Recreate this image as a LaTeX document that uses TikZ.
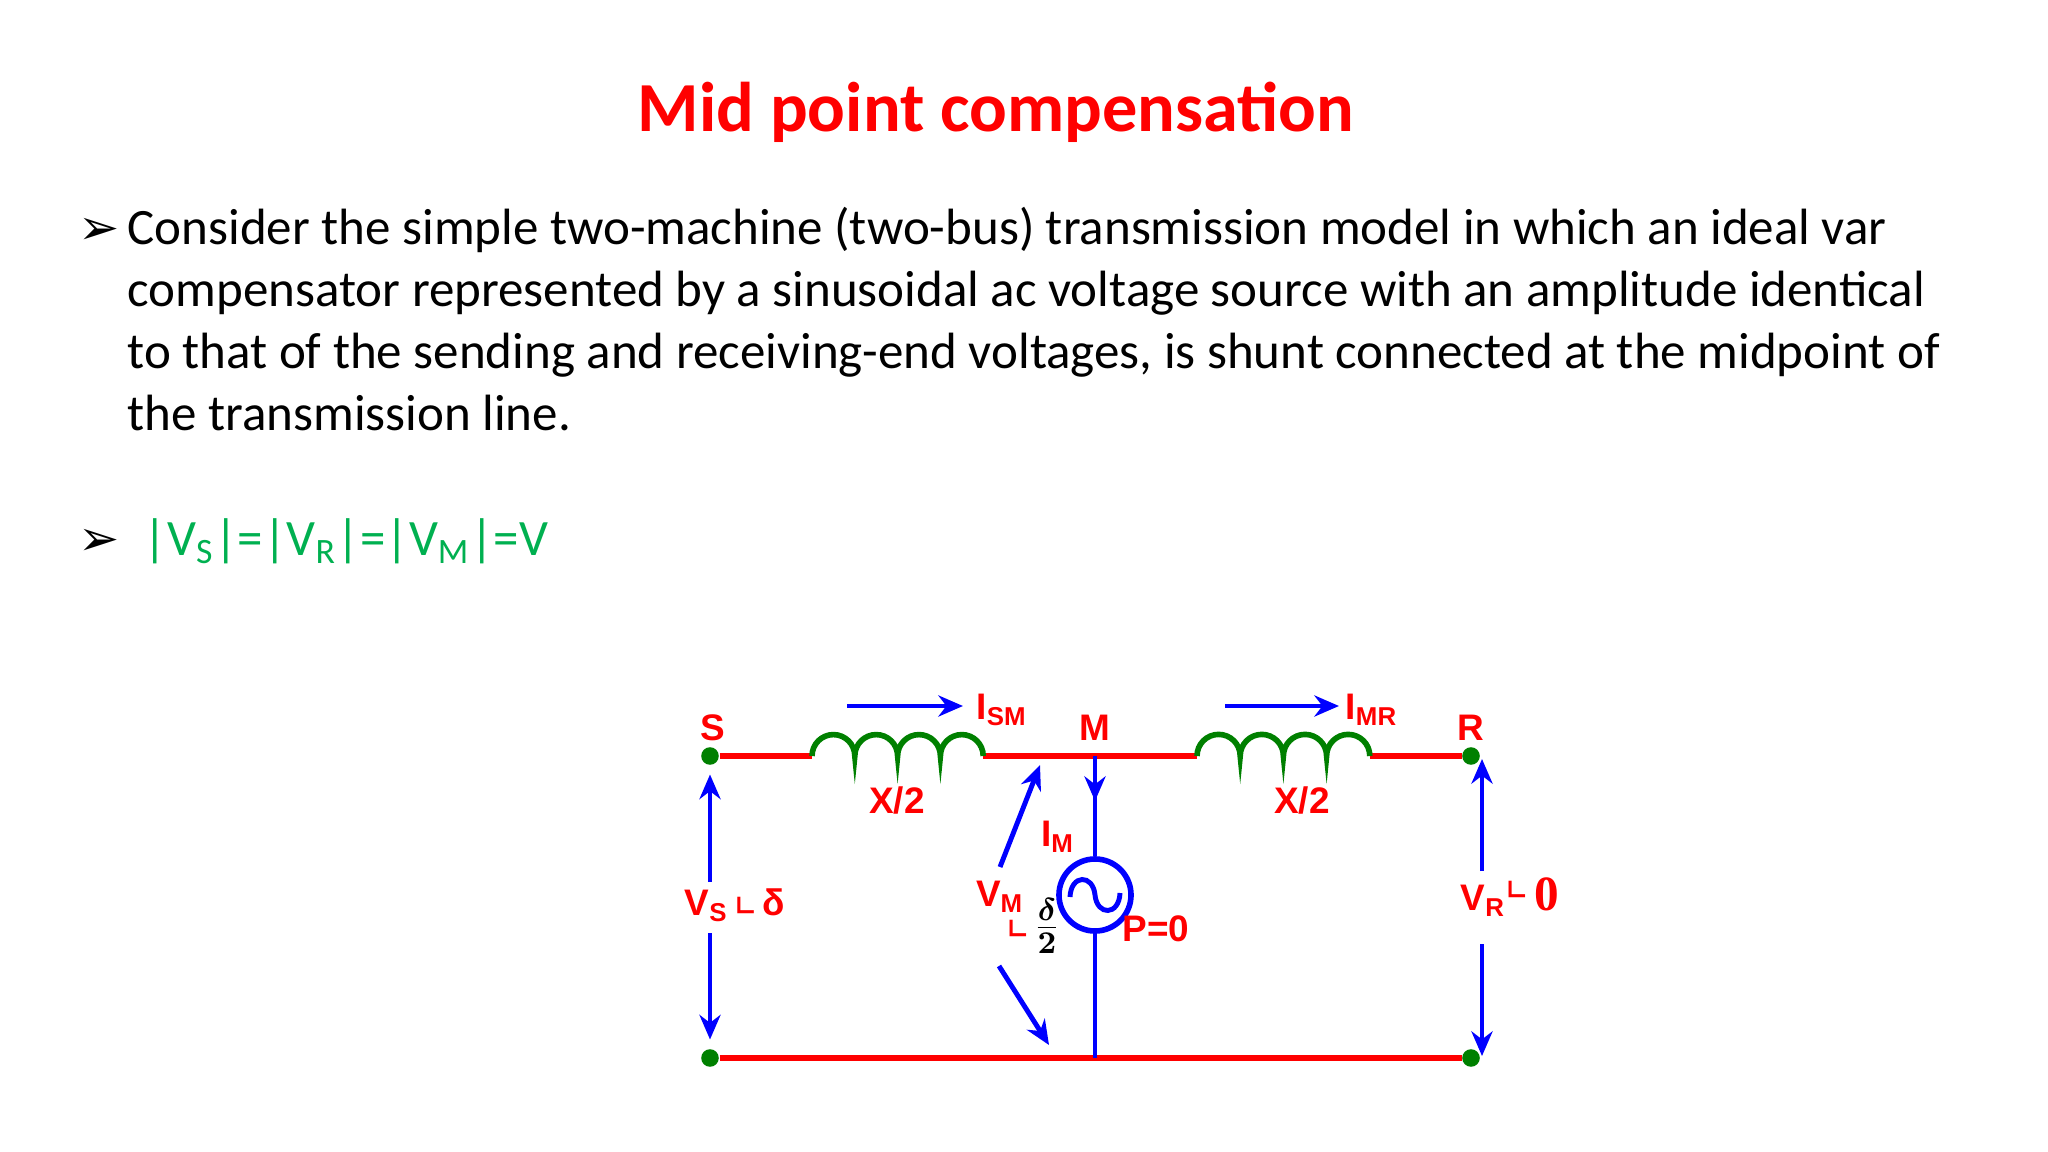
\documentclass[tikz,border=0pt]{standalone}
\usepackage{amsmath}
\usepackage{fontspec}
\setmainfont{Carlito}
\newfontfamily\cf{Liberation Sans}
\newfontfamily\tf{Liberation Serif}
\newfontfamily\dvf{DejaVu Sans}
\usetikzlibrary{arrows.meta}
\definecolor{tred}{RGB}{255,0,0}
\definecolor{tgreen}{RGB}{0,176,80}
\definecolor{lgreen}{RGB}{0,128,0}
\definecolor{tblue}{RGB}{0,0,255}
\tikzset{
 wire/.style={tred,line width=1.5pt},
 varrow/.style={tblue,line width=1.4pt,-{Stealth[length=7pt,width=6pt]}},
 lab/.style={tred,font=\cf\bfseries\fontsize{10.5}{12}\selectfont,inner sep=0pt},
 dot/.style={circle,fill=lgreen,inner sep=0pt,minimum size=5pt},
 coil/.style={lgreen,line width=1.6pt},
 body/.style={anchor=base west,inner sep=0pt,font=\fontsize{14.5}{17.6}\selectfont},
}
\newcommand{\ang}{{\dvf\fontsize{7.5}{8}\selectfont ∟}}
\begin{document}
\begin{tikzpicture}[x=0.01cm,y=-0.01cm]
\useasboundingbox (0,0) rectangle (2048,1152);
\node[tred,font=\bfseries\fontsize{20}{24}\selectfont] (title) at (996,112) {Mid point compensation};
\node[font=\dvf\fontsize{14}{15}\selectfont,anchor=base west] (b1) at (66,245) {➢};
\node[body] (t1a) at (127,245) {Consider the simple two-machine (two-bus) transmission model in which an ideal var};
\node[body] (t1b) at (127,307) {compensator represented by a sinusoidal ac voltage source with an amplitude identical};
\node[body] (t1c) at (127,369) {to that of the sending and receiving-end voltages, is shunt connected at the midpoint of};
\node[body] (t1d) at (127,431) {the transmission line.};
\node[font=\dvf\fontsize{14}{15}\selectfont,anchor=base west] (b2) at (66,556) {➢};
\node[body,tgreen] (t2) at (143,556)
 {|V\textsubscript{S}|=|V\textsubscript{R}|=|V\textsubscript{M}|=V};
% circuit nodes
\node[dot] (S) at (710,756) {};
\node[dot] (R) at (1471,756) {};
\node[dot] (SB) at (710,1058) {};
\node[dot] (RB) at (1471,1058) {};
\coordinate (M) at (1095,756);
\coordinate (MB) at (1095,1058);
\coordinate (L1a) at (812,756); \coordinate (L1b) at (983,756);
\coordinate (L2a) at (1197,756); \coordinate (L2b) at (1370,756);
\node[circle,draw=tblue,line width=1.6pt,minimum size=0.72cm,inner sep=0pt] (src) at (1095,895) {};
\draw[wire] (S) -- (L1a) (L1b) -- (L2a) (L2b) -- (R);
\draw[wire] (SB) -- (RB);
\draw[coil] (L1a) arc(180:360:21.4) arc(180:360:21.4) arc(180:360:21.4) arc(180:360:21.4);
\draw[coil] (L2a) arc(180:360:21.6) arc(180:360:21.6) arc(180:360:21.6) arc(180:360:21.6);
\draw[tblue,line width=1.4pt] (M) -- (src.north) (src.south) -- (MB);
\draw[varrow] (M) -- (1095,801);
\draw[tblue,line width=1.4pt] (1070,897) .. controls (1071,874) and (1093,874) .. (1095,895) .. controls (1097,916) and (1119,916) .. (1120,893);
% current arrows
\coordinate (i1a) at (847,706); \coordinate (i1b) at (963,706);
\coordinate (i2a) at (1225,706); \coordinate (i2b) at (1339,706);
\draw[varrow] (i1a) -- (i1b);
\draw[varrow] (i2a) -- (i2b);
% voltage arrows
\coordinate (vs1) at (710,882); \coordinate (vs2) at (710,933);
\draw[varrow] (vs1) -- ([yshift=-0.09cm]S.south);
\draw[varrow] (vs2) -- ([yshift=0.09cm]SB.north);
\coordinate (vr1) at (1482,871); \coordinate (vr2) at (1482,944);
\draw[varrow] (vr1) -- (1482,759);
\draw[varrow] (vr2) -- (1482,1056);
\coordinate (vm1) at (1000,867); \coordinate (vm2) at (999,966);
\draw[varrow] (vm1) -- (1040,765);
\draw[varrow] (vm2) -- (1049,1045);
% labels
\node[lab] (lS) at (713,728) {S};
\node[lab] (lM) at (1095,728) {M};
\node[lab] (lR) at (1471,728) {R};
\node[lab] (lx1) at (897,800) {X/2};
\node[lab] (lx2) at (1302,800) {X/2};
\node[lab,anchor=west] (lism) at (976,710) {I\textsubscript{SM}};
\node[lab,anchor=west] (limr) at (1345,710) {I\textsubscript{MR}};
\node[lab] (lim) at (1058,837) {I\textsubscript{M}};
\node[lab] (lp) at (1156,929) {P=0};
\node[lab] (lvs) at (735,905) {V\textsubscript{S}\,\ang\,δ};
\node[lab,anchor=west] (lvr) at (1460,897) {V\textsubscript{R}\raisebox{3pt}{\ang}\,{\tf\bfseries\fontsize{14}{14}\selectfont 0}};
\node[lab] (lvm) at (1000,897) {V\textsubscript{M}};
\node[lab] (lang) at (1018,929) {\ang};
\node[inner sep=0pt,font=\fontsize{13}{15}\selectfont] (lfr) at (1047,926) {$\boldsymbol{\frac{\delta}{2}}$};
\end{tikzpicture}
\end{document}
